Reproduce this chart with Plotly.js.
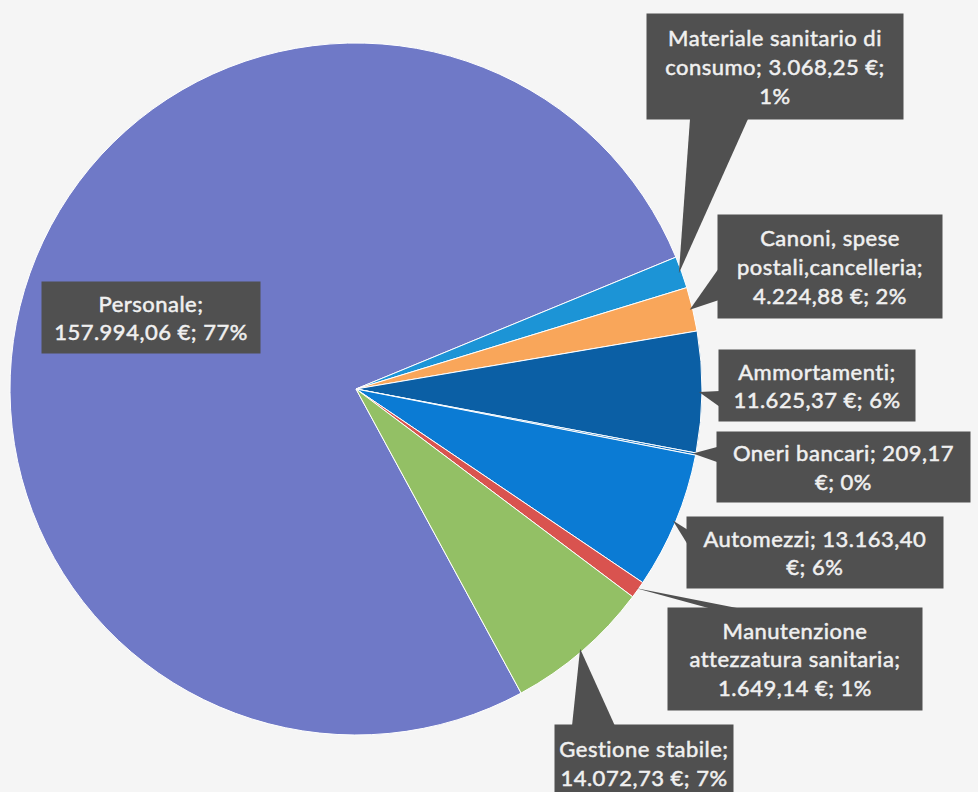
<!DOCTYPE html>
<html>
<head>
<meta charset="utf-8">
<script src="https://cdn.plot.ly/plotly-3.0.1.min.js"></script>
<style>html,body{margin:0;padding:0;background:#f5f5f5;}#chart{width:978px;height:792px;}
#chart .annotation-text{letter-spacing:0.5px;stroke:#f0f0f0;stroke-width:0.5px;}</style>
</head>
<body>
<div id="chart"></div>
<script>
// ---- data ----
const categories = ["Personale", "Materiale sanitario di consumo", "Canoni, spese postali,cancelleria", "Ammortamenti", "Oneri bancari", "Automezzi", "Manutenzione attezzatura sanitaria", "Gestione stabile"];
const amounts = [157994.06, 3068.25, 4224.88, 11625.37, 209.17, 13163.40, 1649.14, 14072.73];
const sliceColors = ["#6f79c7", "#1c94d6", "#f9a65a", "#0b5fa5", "#0a6cbf", "#0b7bd4", "#d9534f", "#93c065"];

// ---- layout parameters ----
const W = 978, H = 792;
const cx = 356, cy = 389, R = 346;
const rotationDeg = 151.5;
// callout boxes: [centerX, centerY, width, height, wrapChars] in px
const boxes = [
  [151, 317, 218, 71, 17],
  [775, 67, 256, 105, 22],
  [830, 266, 224, 103, 20],
  [817, 385, 196, 71, 16],
  [843, 467, 253, 70, 21],
  [815, 552, 256, 71, 20],
  [795, 659, 254, 102, 22],
  [644, 763, 178, 76, 17]
];
// pointer base points (px) for each callout, null = no pointer
const pointerBase = [
  null,
  [[690, 119], [748, 119]],
  [[719, 268], [719, 300]],
  [[720, 391], [720, 407]],
  [[717, 447], [717, 462]],
  [[688, 530], [688, 545]],
  [[712, 609], [742, 609]],
  [[572, 726], [615, 726]]
];

function fmtIt(v) {
  const parts = v.toFixed(2).split(".");
  parts[0] = parts[0].replace(/\B(?=(\d{3})+(?!\d))/g, ".");
  return parts[0] + "," + parts[1];
}
function wrap(str, maxChars) {
  const words = str.split(" ");
  const lines = [];
  let cur = "";
  words.forEach(w => {
    if (cur === "") cur = w;
    else if ((cur + " " + w).length <= maxChars) cur += " " + w;
    else { lines.push(cur); cur = w; }
  });
  if (cur) lines.push(cur);
  return lines.join("<br>");
}
const total = amounts.reduce((a, b) => a + b, 0);
const px = x => x / W;
const py = y => 1 - y / H;

const annotations = [];
const shapes = [];
let angle = rotationDeg;
categories.forEach((name, i) => {
  const span = amounts[i] / total * 360;
  const mid = (angle + span / 2) * Math.PI / 180;
  angle += span;
  const pct = Math.round(amounts[i] / total * 100);
  const label = name + "; " + fmtIt(amounts[i]) + " €; " + pct + "%";
  const b = boxes[i];
  annotations.push({
    x: px(b[0]), y: py(b[1]), xref: "paper", yref: "paper",
    xanchor: "center", yanchor: "middle",
    width: b[2], height: b[3], borderpad: 0,
    text: wrap(label, b[4]), showarrow: false, align: "center", valign: "middle",
    bgcolor: "#505050",
    font: {family: "Lato, 'Open Sans', sans-serif", size: 22, color: "#f0f0f0"}
  });
  if (pointerBase[i]) {
    const tx = cx + (R - 3) * Math.sin(mid);
    const ty = cy - (R - 3) * Math.cos(mid);
    const p = pointerBase[i];
    shapes.push({
      type: "path", xref: "paper", yref: "paper", layer: "above",
      path: `M ${px(p[0][0])} ${py(p[0][1])} L ${px(tx)} ${py(ty)} L ${px(p[1][0])} ${py(p[1][1])} Z`,
      fillcolor: "#505050", line: {width: 0}
    });
  }
});

const trace = {
  type: "pie",
  labels: categories,
  values: amounts,
  sort: false,
  direction: "clockwise",
  rotation: rotationDeg,
  marker: {colors: sliceColors, line: {color: "#ffffff", width: 1}},
  textinfo: "none",
  hoverinfo: "label+value+percent",
  showlegend: false,
  domain: {x: [(cx - R) / W, (cx + R) / W], y: [1 - (cy + R) / H, 1 - (cy - R) / H]}
};

const layout = {
  width: W, height: H,
  margin: {l: 0, r: 0, t: 0, b: 0},
  paper_bgcolor: "#f5f5f5",
  plot_bgcolor: "#f5f5f5",
  showlegend: false,
  annotations: annotations,
  shapes: shapes
};
Plotly.newPlot("chart", [trace], layout, {displayModeBar: false, staticPlot: true});
</script>
</body>
</html>
